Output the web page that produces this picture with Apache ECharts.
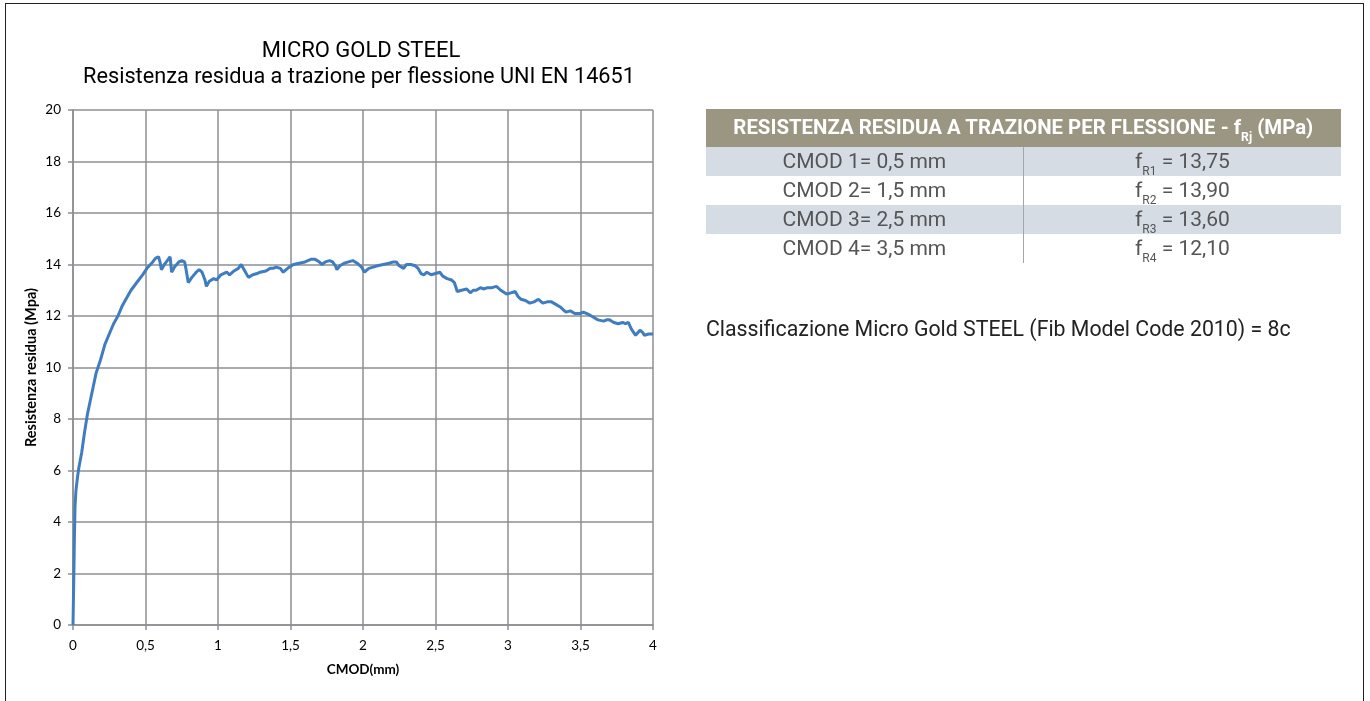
<!DOCTYPE html>
<html>
<head>
<meta charset="utf-8">
<script src="https://cdn.jsdelivr.net/npm/echarts@6/dist/echarts.min.js"></script>
<style>
  html, body { margin: 0; padding: 0; background: #fff; }
  #chart { position: absolute; left: 0; top: 0; width: 1370px; height: 701px; }
  .frame {
    position: absolute; left: 5px; top: 3px; width: 1359px; height: 720px;
    border: 1.5px solid #222; box-sizing: border-box;
  }
  .tbl {
    position: absolute; left: 706px; top: 109px; width: 635px;
    font-family: Roboto, sans-serif; color: #555;
  }
  .tbl .head {
    height: 38px; line-height: 36px; background: #9b9682; color: #fff;
    font-weight: bold; font-size: 20px; text-align: center; white-space: nowrap;
  }
  .tbl .head span { display: inline-block; transform: scaleX(1.02); }
  .tbl .row { height: 29px; line-height: 29px; font-size: 21px; display: flex; }
  .tbl .row.alt { background: #d6dce4; }
  .tbl .row div { width: 50%; text-align: center; }
  .tbl .row div:first-child { border-right: 1px solid #a6a6a6; width: 317px; }
  sub { font-size: 12px; vertical-align: -7px; line-height: 0; }
  .classe {
    position: absolute; left: 706px; top: 316px;
    font-family: Roboto, sans-serif; font-size: 21.3px; color: #222;
  }
</style>
</head>
<body>
<div id="chart"></div>
<div class="frame"></div>

<div class="tbl">
  <div class="head"><span>RESISTENZA RESIDUA A TRAZIONE PER FLESSIONE - f<sub>Rj</sub> (MPa)</span></div>
  <div class="row alt"><div>CMOD 1= 0,5 mm</div><div>f<sub>R1</sub> = 13,75</div></div>
  <div class="row"><div>CMOD 2= 1,5 mm</div><div>f<sub>R2</sub> = 13,90</div></div>
  <div class="row alt"><div>CMOD 3= 2,5 mm</div><div>f<sub>R3</sub> = 13,60</div></div>
  <div class="row"><div>CMOD 4= 3,5 mm</div><div>f<sub>R4</sub> = 12,10</div></div>
</div>
<div class="classe">Classificazione Micro Gold STEEL (Fib Model Code 2010) = 8c</div>

<script>
// curva CMOD (mm) - resistenza residua (MPa)
const cmod = [
  0, 0.003, 0.006, 0.01, 0.014, 0.02, 0.03, 0.04, 0.06, 0.08, 0.1, 0.13, 0.16, 0.19, 0.22,
  0.25, 0.28, 0.31, 0.34, 0.36, 0.4, 0.44, 0.48, 0.51, 0.55, 0.57, 0.59, 0.6, 0.61, 0.63,
  0.65, 0.67, 0.68, 0.7, 0.73, 0.75, 0.77, 0.78, 0.795, 0.82, 0.85, 0.87, 0.89, 0.91, 0.92,
  0.94, 0.97, 0.99, 1.02, 1.06, 1.08, 1.11, 1.14, 1.16, 1.18, 1.21, 1.24, 1.27, 1.29, 1.33,
  1.36, 1.38, 1.4, 1.43, 1.45, 1.48, 1.52, 1.56, 1.6, 1.64, 1.67, 1.7, 1.715, 1.74, 1.77,
  1.79, 1.81, 1.82, 1.84, 1.87, 1.9, 1.93, 1.96, 1.99, 2.01, 2.04, 2.07, 2.1, 2.14, 2.18,
  2.21, 2.23, 2.25, 2.28, 2.3, 2.33, 2.36, 2.38, 2.4, 2.42, 2.44, 2.47, 2.5, 2.53, 2.55,
  2.58, 2.61, 2.63, 2.65, 2.68, 2.715, 2.74, 2.76, 2.78, 2.81, 2.83, 2.86, 2.89, 2.92, 2.95,
  2.99, 3.02, 3.05, 3.07, 3.09, 3.12, 3.15, 3.18, 3.21, 3.24, 3.27, 3.3, 3.33, 3.36, 3.38,
  3.4, 3.43, 3.46, 3.5, 3.52, 3.54, 3.56, 3.59, 3.62, 3.66, 3.68, 3.7, 3.73, 3.76, 3.79,
  3.81, 3.83, 3.85, 3.88, 3.91, 3.93, 3.94, 3.97, 4.0
];
const resistenza = [
  0, 1.0, 2.0, 3.5, 4.6, 5.2, 5.7, 6.1, 6.7, 7.5, 8.2, 9.0, 9.8, 10.3, 10.9,
  11.3, 11.7, 12.0, 12.4, 12.6, 13.0, 13.3, 13.6, 13.85, 14.1, 14.25, 14.3, 14.1, 13.8, 14.0,
  14.15, 14.3, 13.7, 13.9, 14.1, 14.15, 14.1, 13.8, 13.3, 13.5, 13.7, 13.8, 13.7, 13.4, 13.15,
  13.35, 13.45, 13.4, 13.6, 13.7, 13.6, 13.75, 13.85, 14.0, 13.8, 13.5, 13.6, 13.65, 13.7, 13.75,
  13.85, 13.85, 13.9, 13.85, 13.7, 13.85, 14.0, 14.05, 14.1, 14.2, 14.2, 14.1, 14.0, 14.1, 14.15,
  14.1, 13.95, 13.8, 13.95, 14.05, 14.1, 14.15, 14.05, 13.9, 13.7, 13.85, 13.9, 13.95, 14.0, 14.05,
  14.1, 14.1, 13.95, 13.85, 14.0, 14.0, 13.95, 13.85, 13.65, 13.6, 13.7, 13.6, 13.65, 13.7, 13.55,
  13.45, 13.4, 13.3, 12.95, 13.0, 13.05, 12.9, 13.0, 13.0, 13.1, 13.05, 13.1, 13.1, 13.15, 13.0,
  12.85, 12.9, 12.95, 12.75, 12.65, 12.6, 12.5, 12.55, 12.65, 12.5, 12.55, 12.55, 12.45, 12.35, 12.25,
  12.15, 12.2, 12.1, 12.1, 12.15, 12.1, 12.05, 11.95, 11.85, 11.8, 11.85, 11.85, 11.75, 11.7, 11.75,
  11.7, 11.75, 11.5, 11.25, 11.45, 11.35, 11.25, 11.3, 11.3
];

const gridColor = "#8c8f93";
const labelFont = "Lato, 'Open Sans', sans-serif";

const chart = echarts.init(document.getElementById("chart"));
chart.setOption({
  animation: false,
  title: [
    {
      text: "MICRO GOLD STEEL",
      left: 356,
      top: 35,
      textAlign: "center",
      textStyle: { fontFamily: "Roboto", fontSize: 22, fontWeight: "normal", color: "#000" },
    },
    {
      text: "Resistenza residua a trazione per flessione UNI EN 14651",
      left: 354,
      top: 62,
      textAlign: "center",
      textStyle: { fontFamily: "Roboto", fontSize: 21.7, fontWeight: "normal", color: "#000" },
    },
  ],
  grid: { left: 73, right: 717, top: 110, bottom: 76 },
  xAxis: {
    type: "value",
    min: 0,
    max: 4,
    interval: 0.5,
    name: "CMOD(mm)",
    nameLocation: "middle",
    nameGap: 38,
    nameTextStyle: { fontFamily: labelFont, fontSize: 13.5, fontWeight: "bold", color: "#000" },
    axisLine: { lineStyle: { color: gridColor, width: 1.5 } },
    axisTick: { show: true, length: 5, lineStyle: { color: gridColor, width: 1.5 } },
    axisLabel: {
      margin: 14,
      fontFamily: labelFont,
      fontSize: 13.5,
      color: "#000",
      formatter: (v) => String(v).replace(".", ","),
    },
    splitLine: { lineStyle: { color: gridColor, width: 1.5 } },
  },
  yAxis: {
    type: "value",
    min: 0,
    max: 20,
    interval: 2,
    name: "Resistenza residua (Mpa)",
    nameLocation: "middle",
    nameRotate: 90,
    nameGap: 34,
    nameTextStyle: { fontFamily: labelFont, fontSize: 14.5, fontWeight: "bold", color: "#000" },
    axisLine: { show: true, lineStyle: { color: gridColor, width: 1.5 } },
    axisTick: { show: true, length: 5, lineStyle: { color: gridColor, width: 1.5 } },
    axisLabel: { margin: 12, fontFamily: labelFont, fontSize: 13.5, color: "#000" },
    splitLine: { lineStyle: { color: gridColor, width: 1.5 } },
  },
  series: [
    {
      type: "line",
      data: cmod.map((x, i) => [x, resistenza[i]]),
      showSymbol: false,
      lineStyle: { color: "#3f7cc0", width: 3 },
    },
  ],
});
</script>
</body>
</html>
